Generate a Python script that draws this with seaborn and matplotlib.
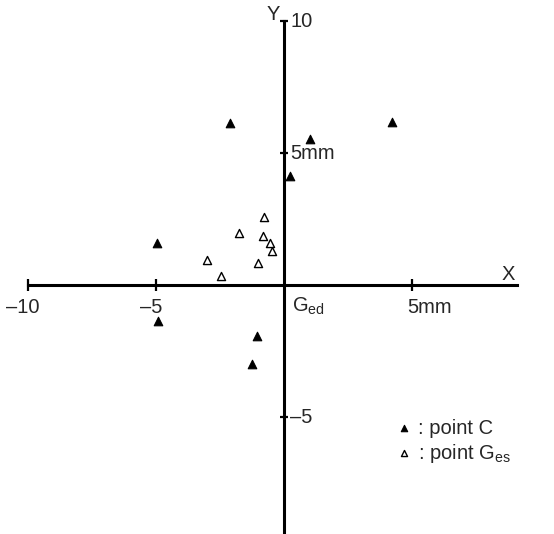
import seaborn as sns
from matplotlib import pyplot as plt
import pandas as pd

# displacement of point C and G_es relative to G_ed (mm)
c_x = [-2.11, 4.22, 1.02, 0.23, -4.97, -4.91, -1.07, -1.24]
c_y = [6.15, 6.19, 5.52, 4.13, 1.60, -1.36, -1.93, -3.00]
ges_x = [-0.79, -1.75, -0.83, -0.53, -0.48, -3.02, -1.03, -2.45]
ges_y = [2.59, 1.98, 1.86, 1.60, 1.29, 0.95, 0.82, 0.34]

x_ticks = [-10, -5, 5]
x_tick_labels = ['–10', '–5', '5mm']
y_ticks = [10, 5, -5]
y_tick_labels = ['10', '5mm', '–5']

df_c = pd.DataFrame({'x': c_x, 'y': c_y})
df_g = pd.DataFrame({'x': ges_x, 'y': ges_y})

sns.set_theme(style='white')
plt.rcParams['font.family'] = ['Liberation Sans', 'DejaVu Sans']
plt.rcParams['mathtext.fontset'] = 'custom'
plt.rcParams['mathtext.rm'] = 'Liberation Sans'

fig = plt.figure(figsize=(5.54, 5.34), dpi=100)
ax = fig.add_axes([0, 0, 1, 1])
ax.set_xlim(-11.09, 10.55)
ax.set_ylim(-9.43, 10.8)

sns.scatterplot(data=df_c, x='x', y='y', marker='^', s=38, color='black',
                edgecolor='black', linewidth=0.8, ax=ax, label=': point C', zorder=3)
sns.scatterplot(data=df_g, x='x', y='y', marker='^', s=34, facecolor='white',
                edgecolor='black', linewidth=1.0, ax=ax,
                label=r': point $\mathregular{G_{es}}$', zorder=3)

for s in ['top', 'right']:
    ax.spines[s].set_visible(False)
ax.spines['left'].set_position(('data', 0))
ax.spines['bottom'].set_position(('data', 0))
ax.spines['left'].set_bounds(-9.43, 10)
ax.spines['bottom'].set_bounds(-10, 9.1)
for s in ['left', 'bottom']:
    ax.spines[s].set_linewidth(2.2)
    ax.spines[s].set_color('black')

ax.set_xticks(x_ticks)
ax.set_yticks(y_ticks)
ax.tick_params(axis='x', direction='inout', length=8, width=1.6, color='black',
               bottom=True, labelbottom=False)
ax.tick_params(axis='y', direction='inout', length=6, width=1.6, color='black',
               left=True, labelleft=False)
ax.set_xlabel('')
ax.set_ylabel('')

fs = 14.5
for t, lab in zip(x_ticks, x_tick_labels):
    ha = 'left' if lab.endswith('mm') else 'center'
    ax.text(t - 0.2, -0.5, lab, ha=ha, va='top', fontsize=fs)
for t, lab in zip(y_ticks, y_tick_labels):
    ax.text(0.25, t, lab, ha='left', va='center', fontsize=fs)

ax.text(-0.4, 10.25, 'Y', ha='center', va='center', fontsize=fs)
ax.text(8.75, 0.4, 'X', ha='center', va='center', fontsize=fs)
ax.text(0.3, -0.8, r'$\mathregular{G_{ed}}$', ha='left', va='center', fontsize=fs)

ax.legend(loc='upper left', bbox_to_anchor=(0.697, 0.235), frameon=False,
          fontsize=fs, handlelength=0.8, handletextpad=0.3, borderpad=0,
          labelspacing=0.2, markerscale=0.75)

plt.savefig('out.png', dpi=100, facecolor='white')
plt.close()
